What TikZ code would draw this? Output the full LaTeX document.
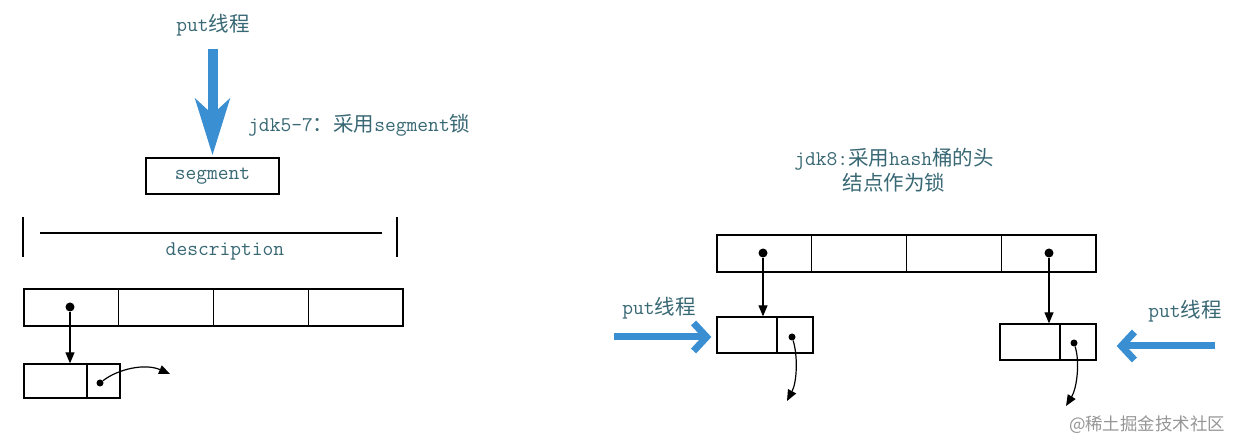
\documentclass[tikz,border=0pt]{standalone}
\usepackage{fontspec}
\newfontfamily\cjk[Scale=0.98]{Noto Sans CJK SC}
\newfontfamily\wmfont{Noto Sans CJK SC}
\usetikzlibrary{arrows.meta}
\definecolor{txt}{RGB}{56,104,116}
\definecolor{blu}{RGB}{58,143,211}
\definecolor{wm}{RGB}{150,150,150}
\tikzset{
  lbl/.style={text=txt, inner sep=0pt, font=\ttfamily\fontsize{21}{25}\selectfont},
  cell/.style={draw, line width=1.3bp, inner sep=0pt, minimum height=36bp},
  dotbig/.style={circle, fill=black, inner sep=0pt, minimum size=9bp},
  dotsmall/.style={circle, fill=black, inner sep=0pt, minimum size=7bp},
  ptr/.style={line width=1.2bp, -{Triangle[length=11bp,width=9bp]}},
  bigblue/.style={blu, line width=10bp, -{Stealth[length=56bp,width=34bp,inset=15bp]}},
  sideblue/.style={blu, line width=7bp, -{Straight Barb[length=13bp,width=28bp]}},
}
\begin{document}
\begin{tikzpicture}[x=1bp,y=-1bp]
\fill[white] (0,0) rectangle (1244,448);
\useasboundingbox (0,0) rectangle (1244,448);

% ---------- left part ----------
\node[lbl] (put1) at (213,25) {put{\cjk 线程}};
\node[cell, minimum width=133bp] (seg) at (212.5,176) {\color{txt}\ttfamily\fontsize{21}{22}\selectfont segment};
\draw[bigblue, shorten <=13bp, shorten >=2bp] (seg.north |- put1.south) -- (seg.north);
\node[lbl, anchor=west] (jdk57) at (248,125) {jdk5-7{\cjk ：采用}segment{\cjk 锁}};

% description bracket
\draw[line width=1.4bp] (23,217) -- (23,257);
\draw[line width=1.4bp] (397,217) -- (397,257);
\draw[line width=1.3bp] (40,233) -- (382,233);
\node[lbl] (desc) at (225,251) {description};

% left array
\node[cell, minimum width=94.75bp, minimum height=37bp] (la1) at (71.375,307.5) {};
\node[cell, minimum width=94.75bp, minimum height=37bp] (la2) at (166.125,307.5) {};
\node[cell, minimum width=94.75bp, minimum height=37bp] (la3) at (260.875,307.5) {};
\node[cell, minimum width=94.75bp, minimum height=37bp] (la4) at (355.625,307.5) {};
% left list node
\node[cell, minimum width=63bp, minimum height=34bp] (lnA) at (55.5,381) {};
\node[cell, minimum width=33bp, minimum height=34bp] (lnB) at (103.5,381) {};
\node[dotbig] (d1) at (70,307) {};
\node[dotsmall] (d2) at (100,383) {};
\coordinate (e1) at (170,374);
\draw[ptr] (d1) -- (d1 |- lnA.north);
\draw[ptr] (d2) .. controls (118,369) and (145,363) .. (e1);

% ---------- right part ----------
\node[lbl, align=center] (jdk8) at (894,170) {jdk8:{\cjk 采用}hash{\cjk 桶的头}\\{\cjk 结点作为锁}};

\node[cell, minimum width=94.75bp, minimum height=37bp] (ra1) at (764.375,253.5) {};
\node[cell, minimum width=94.75bp, minimum height=37bp] (ra2) at (859.125,253.5) {};
\node[cell, minimum width=94.75bp, minimum height=37bp] (ra3) at (953.875,253.5) {};
\node[cell, minimum width=94.75bp, minimum height=37bp] (ra4) at (1048.625,253.5) {};

\node[cell, minimum width=60bp] (rlA) at (747,335) {};
\node[cell, minimum width=36bp] (rlB) at (795,335) {};
\node[cell, minimum width=60bp] (rrA) at (1030,342) {};
\node[cell, minimum width=36bp] (rrB) at (1078,342) {};

\node[dotbig] (d3) at (763,253) {};
\node[dotbig] (d4) at (1049,253) {};
\node[dotsmall] (d5) at (792,337) {};
\node[dotsmall] (d6) at (1074,343) {};
\coordinate (e2) at (787,401);
\coordinate (e3) at (1066,406);
\draw[ptr] (d3) -- (d3 |- rlA.north);
\draw[ptr] (d4) -- (d4 |- rrA.north);
\draw[ptr] (d5) .. controls (798,356) and (797,382) .. (e2);
\draw[ptr] (d6) .. controls (1080,362) and (1077,388) .. (e3);

% put threads
\node[lbl] (put2) at (659,308) {put{\cjk 线程}};
\node[lbl] (put3) at (1185,311) {put{\cjk 线程}};
\coordinate (s2) at (614,337);
\coordinate (s3) at (1215,346);
\draw[sideblue, shorten >=5bp] (s2) -- (s2 -| rlA.west);
\draw[sideblue, shorten >=20bp] (s3) -- (s3 -| rrB.east);

% watermark
\node[text=wm, inner sep=0pt, font=\wmfont\fontsize{17.5}{20}\selectfont] (wmk) at (1147,425) {@稀土掘金技术社区};
\end{tikzpicture}
\end{document}
